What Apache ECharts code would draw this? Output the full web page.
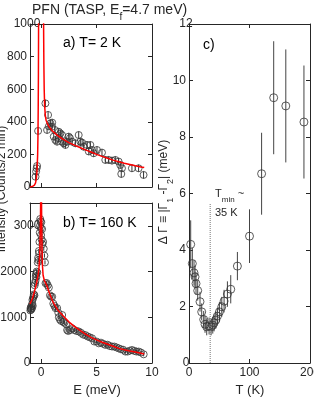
<!DOCTYPE html>
<html><head><meta charset="utf-8">
<script src="https://cdn.jsdelivr.net/npm/echarts@6/dist/echarts.min.js"></script>
<style>html,body{margin:0;padding:0;background:#fff}#c{width:314px;height:398px}</style>
</head><body><div id="c"></div><script>
// ---- Panel a (T = 2 K) data ----
const aE   = [-0.5,-0.45,-0.4,-0.36,-0.27,0.39,0.63,0.54,0.84,0.99,1.23,1.59,1.74,1.89,1.14,1.29,1.44,1.59,1.89,2.04,2.19,2.34,2.49,2.79,3.09,3.39,3.54,3.84,4.14,4.44,4.59,4.74,5.04,5.49,5.79,6.09,6.39,6.69,6.99,7.14,7.29,7.23,8.19,8.79,9.24,0.7,1.0,2.6,3.7,4.3];
const aI   = [63,95,115,129,344,513,442,350,391,370,350,339,329,319,309,288,278,299,278,268,258,278,309,278,268,319,278,247,258,258,227,207,227,211,166,166,162,166,156,135,115,80,115,115,74,372,395,300,272,218];
const aErr = 22;
const aFitLeftE  = [-1,-0.8,-0.6,-0.5,-0.42,-0.36,-0.31,-0.28,-0.26,-0.24,-0.23,-0.22];
const aFitLeftI  = [0,3,12,25,55,110,200,320,480,700,900,1200];
const aFitRightE = [0.21,0.23,0.25,0.28,0.32,0.38,0.45,0.55,0.7,1.0,1.5,2.0,2.5,3.0,3.5,4.0,4.5,5.0,5.5,6.0,6.5,7.0,7.5,8.0,8.5,9.0,9.3];
const aFitRightI = [1200,950,760,600,500,440,410,392,372,345,315,292,272,257,242,228,215,200,188,176,165,155,146,138,130,123,119];

// ---- Panel b (T = 160 K) data ----
const bE = [-0.97,-0.95,-0.92,-0.9,-0.88,-0.85,-0.82,-0.8,-0.78,-0.75,-0.72,-0.68,-0.65,-0.6,-0.58,-0.55,-0.5,-0.48,-0.45,-0.42,-0.4,-0.35,-0.3,-0.27,-0.24,-0.2,-0.18,-0.15,-0.12,-0.1,-0.08,-0.05,-0.02,0.0,0.02,0.05,0.09,0.12,0.18,0.24,0.3,0.35,0.4,0.5,0.6,0.7,0.8,0.9,1.0,1.1,1.2,1.3,1.45,1.55,1.6,1.7,1.8,1.9,2.0,2.1,2.25,2.35,2.45,2.6,2.8,3.0,3.2,3.4,3.6,3.8,4.0,4.2,4.4,4.6,4.8,5.0,5.2,5.4,5.6,5.8,6.0,6.2,6.4,6.6,6.8,7.0,7.2,7.4,7.6,7.8,8.0,8.2,8.4,8.6,8.8,9.0,9.25];
const bI = [1150,1200,1180,1230,1170,1250,1200,1300,1380,1250,1420,1460,1500,1480,1700,1750,1800,1900,1950,1880,2000,1980,2200,2300,2250,2450,2400,2650,2850,3000,3150,3100,2950,2800,3080,2700,2930,2600,2650,2500,2350,2200,1745,1750,1700,1650,1480,1450,1450,1300,1250,1200,1200,1100,1000,950,920,1050,900,880,850,720,700,720,760,720,700,690,660,620,610,580,560,540,470,470,430,445,420,395,400,370,360,360,340,320,300,290,250,250,270,285,265,250,250,230,190];
const bErr = 45;
const bFitLeftE  = [-1,-0.8,-0.6,-0.45,-0.35,-0.25,-0.18,-0.12,-0.08,-0.05,-0.03];
const bFitLeftI  = [1290,1400,1560,1700,1820,1950,2100,2400,2800,3300,3800];
const bFitRightE = [0.03,0.05,0.08,0.12,0.18,0.3,0.5,0.8,1.1,1.5,2.0,2.5,3.0,3.5,4.0,4.5,5.0,5.5,6.0,6.5,7.0,7.5,8.0,8.5,9.0,9.3];
const bFitRightI = [3800,3200,2600,2150,1920,1800,1700,1500,1320,1160,1030,900,800,715,630,560,505,455,410,365,320,288,262,240,215,198];

// ---- Panel c data ----
const cT   = [2.8,5.5,8.3,10,11.6,14.4,18.2,21,24.3,26.5,29.3,33.2,36.5,39.3,41.5,44.3,47,50.3,54.2,58,63.5,69,80,100,120,140,160,190];
const cG   = [4.2,3.52,3.19,3.05,2.81,2.56,2.17,1.81,1.54,1.37,1.28,1.31,1.28,1.34,1.42,1.52,1.66,1.81,1.99,2.19,2.44,2.61,3.43,4.49,6.70,9.39,9.1,8.53];
const cErr = [0.85,0.55,0.45,0.4,0.4,0.35,0.35,0.3,0.3,0.3,0.3,0.3,0.3,0.3,0.3,0.3,0.3,0.35,0.35,0.4,0.45,0.5,0.5,0.95,1.45,2.0,2.0,2.0];
const tMin = 35;
const tMinLineTop = 5.65;

// ---- tick labels ----
const eTicks = [0,5,10];
const aYTicks = [0,200,400,600,800,1000];
const bYTicks = [0,1000,2000,3000];
const cXTicks = [0,100,200];
const cYTicks = [0,2,4,6,8,10,12];

const FONT = "'Liberation Sans', Arial, sans-serif";
const AX = '#262626';

const zip = (x, y) => x.map((v, i) => [v, y[i]]);
const errData = (x, y, e) => x.map((v, i) => { const d = Array.isArray(e) ? e[i] : e; return [v, y[i] - d, y[i] + d]; });

function errSeries(xi, yi, data, color) {
  return {
    type: 'custom', xAxisIndex: xi, yAxisIndex: yi, data: data, silent: true,
    encode: { x: 0, y: [1, 2] },
    renderItem: function (params, api) {
      const p1 = api.coord([api.value(0), api.value(1)]);
      const p2 = api.coord([api.value(0), api.value(2)]);
      return { type: 'line', shape: { x1: p1[0], y1: p1[1], x2: p2[0], y2: p2[1] },
               style: { stroke: color, lineWidth: 1 } };
    }
  };
}
function scat(xi, yi, data, size) {
  return { type: 'scatter', xAxisIndex: xi, yAxisIndex: yi, data: data, symbol: 'circle',
           symbolSize: size, silent: true,
           itemStyle: { color: 'rgba(0,0,0,0)', borderColor: '#333', borderWidth: 1 } };
}
function fit(xi, yi, data) {
  return { type: 'line', xAxisIndex: xi, yAxisIndex: yi, data: data, showSymbol: false,
           silent: true, clip: true, lineStyle: { color: '#ff0000', width: 1.5 } };
}
function ax(grid, pos, min, max, ticks, showLabels) {
  return { type: 'value', gridIndex: grid, position: pos, min: min, max: max,
    splitLine: { show: false },
    axisLine: { show: true, onZero: false, lineStyle: { color: AX, width: 1 } },
    axisTick: { show: true, inside: true, length: 4, customValues: ticks, lineStyle: { color: AX } },
    axisLabel: { show: !!showLabels, customValues: ticks, color: AX, fontFamily: FONT, fontSize: 12,
                 margin: (pos === 'left') ? 3 : 4, hideOverlap: false,
                 alignMinLabel: 'center', alignMaxLabel: 'center',
                 formatter: function (v) { return String(v); } } };
}

const chart = echarts.init(document.getElementById('c'), null, { renderer: 'canvas' });
const option = {
  animation: false,
  backgroundColor: '#fff',
  grid: [
    { left: 30, top: 24, width: 122, height: 163, outerBoundsMode: 'none', containLabel: false },
    { left: 30, top: 203, width: 122, height: 160, outerBoundsMode: 'none', containLabel: false },
    { left: 189, top: 24, width: 121, height: 339, outerBoundsMode: 'none', containLabel: false }
  ],
  xAxis: [
    ax(0, 'bottom', -1, 10, eTicks, false),
    ax(0, 'top', -1, 10, eTicks, false),
    ax(1, 'bottom', -1, 10, eTicks, true),
    ax(1, 'top', -1, 10, eTicks, false),
    ax(2, 'bottom', 0, 200, cXTicks, true),
    ax(2, 'top', 0, 200, cXTicks, false)
  ],
  yAxis: [
    ax(0, 'left', 0, 1000, aYTicks, true),
    ax(0, 'right', 0, 1000, aYTicks, false),
    ax(1, 'left', 0, 3500, bYTicks, true),
    ax(1, 'right', 0, 3500, bYTicks, false),
    ax(2, 'left', 0, 12, cYTicks, true),
    ax(2, 'right', 0, 12, cYTicks, false)
  ],
  series: [
    errSeries(0, 0, errData(aE, aI, aErr), '#333'),
    scat(0, 0, zip(aE, aI), 7),
    fit(0, 0, zip(aFitLeftE, aFitLeftI)),
    fit(0, 0, zip(aFitRightE, aFitRightI)),
    errSeries(2, 2, errData(bE, bI, bErr), '#333'),
    scat(2, 2, zip(bE, bI), 7),
    fit(2, 2, zip(bFitLeftE, bFitLeftI)),
    fit(2, 2, zip(bFitRightE, bFitRightI)),
    { type: 'line', xAxisIndex: 4, yAxisIndex: 4, data: [[tMin, 0], [tMin, tMinLineTop]], showSymbol: false,
      silent: true, lineStyle: { color: '#777', width: 1, type: [1, 1] } },
    errSeries(4, 4, errData(cT, cG, cErr), '#444'),
    scat(4, 4, zip(cT, cG), 8)
  ],
  graphic: [
    { type: 'text', left: 32, top: 3, style: { text: '{t|PFN (TASP, E}{s|f}{t|=4.7 meV)}', fill: AX,
      rich: { t: { fontSize: 14, fontFamily: FONT, lineHeight: 16, verticalAlign: 'top', fill: AX },
              s: { fontSize: 10, fontFamily: FONT, lineHeight: 10, padding: [9, 0, 0, 0], verticalAlign: 'top', fill: AX } } } },
    { type: 'text', x: 63, y: 43, style: { text: 'a) T= 2 K', font: '14px ' + FONT, fill: '#000', textVerticalAlign: 'middle' } },
    { type: 'text', x: 63, y: 223, style: { text: 'b) T= 160 K', font: '14px ' + FONT, fill: '#000', textVerticalAlign: 'middle' } },
    { type: 'text', x: 203, y: 45, style: { text: 'c)', font: '14px ' + FONT, fill: '#000', textVerticalAlign: 'middle' } },
    { type: 'text', x: 215, y: 188, style: { text: '{t|T}{s|min}{t| ~}', fill: AX,
      rich: { t: { fontSize: 11, fontFamily: FONT, lineHeight: 13, verticalAlign: 'top', fill: AX },
              s: { fontSize: 8, fontFamily: FONT, lineHeight: 8, padding: [8, 0, 0, 0], verticalAlign: 'top', fill: AX } } } },
    { type: 'text', x: 215, y: 213, style: { text: '35 K', font: '11px ' + FONT, fill: AX, textVerticalAlign: 'middle' } },
    { type: 'text', x: 97, y: 390, style: { text: 'E (meV)', font: '13px ' + FONT, fill: AX, textAlign: 'center', textVerticalAlign: 'middle' } },
    { type: 'text', x: 250, y: 390, style: { text: 'T (K)', font: '13px ' + FONT, fill: AX, textAlign: 'center', textVerticalAlign: 'middle' } },
    { type: 'text', x: 2, y: 189, rotation: Math.PI / 2, style: { text: 'Intensity (Counts/2 min)', font: '12px ' + FONT, fill: AX, textAlign: 'center', textVerticalAlign: 'middle' } },
    { type: 'text', x: 165, y: 192, rotation: Math.PI / 2, style: { text: '{t|Δ Γ ≡ |Γ}{s|1}{t| -Γ}{s|2}{t|| (meV)}', fill: AX,
      textAlign: 'center', textVerticalAlign: 'middle',
      rich: { t: { fontSize: 12, fontFamily: FONT, lineHeight: 14, verticalAlign: 'top', fill: AX },
              s: { fontSize: 9, fontFamily: FONT, lineHeight: 9, padding: [8, 0, 0, 0], verticalAlign: 'top', fill: AX } } } }
  ]
};
chart.setOption(option);
</script></body></html>
